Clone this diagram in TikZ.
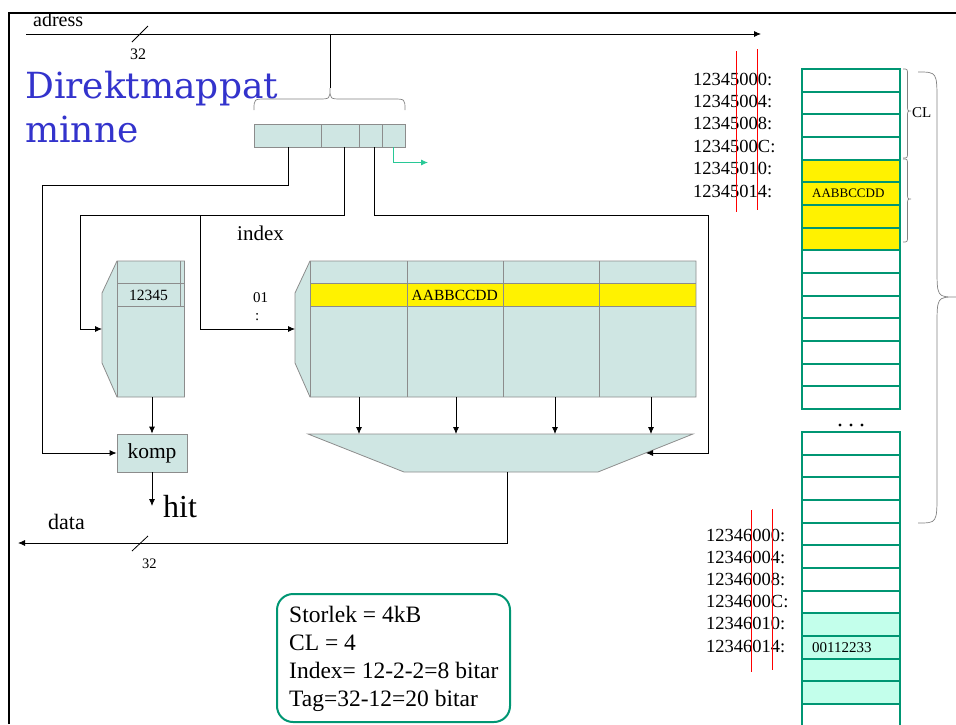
\documentclass[tikz,border=0pt]{standalone}
\usepackage{fontspec}
\setmainfont{Liberation Serif}
\newfontfamily\titlefont{DejaVu Serif}
\usetikzlibrary{arrows.meta}
\definecolor{cfill}{RGB}{207,230,227}
\definecolor{cedge}{RGB}{140,140,140}
\definecolor{mgreen}{RGB}{0,150,115}
\definecolor{mint}{RGB}{195,255,235}
\definecolor{tblue}{RGB}{51,51,204}
\definecolor{agreen}{RGB}{40,200,150}
\definecolor{bracegray}{RGB}{130,130,130}
\begin{document}
\begin{tikzpicture}[x=1pt,y=-1pt,
  arr/.style={-{Latex[length=7pt,width=6pt]}, line width=0.8pt},
  wire/.style={line width=0.8pt},
  unit/.style={fill=cfill, draw=cedge, line width=0.8pt},
  regf/.style={unit, minimum height=23pt, inner sep=0pt, outer sep=0pt, anchor=north west},
  memrow/.style={draw=mgreen, line width=2.3pt, minimum width=98pt, minimum height=22.667pt, inner sep=0pt, outer sep=0pt, anchor=north west},
  lbl/.style={inner sep=0pt},
  addr/.style={lbl, anchor=base west, font=\fontsize{18.5}{22}\selectfont},
  brc/.style={draw=bracegray, line width=0.7pt},
  redl/.style={draw=red, line width=0.8pt}
]
\useasboundingbox (0,0) rectangle (956,724);
\clip (0,0) rectangle (956,724);

% frame
\draw[line width=2pt] (9,724) -- (9,12.5) -- (956,12.5);

% title
\node[lbl, anchor=base west, text=tblue, font=\titlefont\fontsize{36}{40}\selectfont] (title1) at (25,98) {Direktmappat};
\node[lbl, anchor=base west, text=tblue, font=\titlefont\fontsize{36}{40}\selectfont] (title2) at (25,142) {minne};

% address bus
\coordinate (adrIn) at (26,34);
\coordinate (adrOut) at (761,34);
\draw[arr] (adrIn) -- (adrOut);
\draw[wire] (132,42) -- (148,26);
\node[lbl, anchor=base west, font=\fontsize{16}{18}\selectfont] (n32a) at (130,59) {32};
\node[lbl, anchor=base west, font=\fontsize{20}{24}\selectfont] (adr) at (33,26) {adress};

% register
\node[regf, minimum width=67.4pt] (r1) at (254.3,124) {};
\node[regf, minimum width=37.6pt] (r2) at (r1.north east) {};
\node[regf, minimum width=23pt] (r3) at (r2.north east) {};
\node[regf, minimum width=22.7pt] (r4) at (r3.north east) {};
\coordinate (brTip) at (330,88);
\draw[brc] (254,110) .. controls (254,99) .. (266,99) -- (318,99) .. controls (330,99) .. (brTip) .. controls (330,99) .. (342,99) -- (393,99) .. controls (405,99) .. (405,110);
\draw[wire] (330,34) -- (brTip);
\coordinate (tIdx) at (344.3,147);
\coordinate (tOff) at (374.3,147);
\coordinate (tByte) at (393.3,147);

% tag memory
\filldraw[unit] (117,261) -- (184.5,261) -- (184.5,397) -- (117,397) -- (102,363) -- (102,293) -- cycle;
\draw[cedge, line width=0.8pt] (117,261)--(117,397) (117,283)--(184.5,283) (117,306)--(184.5,306) (180.5,261)--(180.5,306);
\node[lbl, font=\fontsize{15.6}{18}\selectfont] (tagval) at (148.5,295) {12345};
\coordinate (tagIn) at (102,329);
\coordinate (tagOut) at (152,397);

% comparator
\node[unit, minimum width=70pt, minimum height=38pt, inner sep=0pt, font=\fontsize{21.5}{24}\selectfont] (komp) at (152,453) {komp};

% data cache
\fill[cfill] (310,261) -- (696,261) -- (696,397) -- (310,397) -- (295,363) -- (295,293) -- cycle;
\fill[yellow] (310,283) rectangle (696,306);
\draw[cedge, line width=0.8pt] (310,261) -- (696,261) -- (696,397) -- (310,397) -- (295,363) -- (295,293) -- cycle;
\draw[cedge, line width=0.8pt] (310,261)--(310,397) (310,283)--(696,283) (310,306)--(696,306) (407,261)--(407,397) (503,261)--(503,397) (599,261)--(599,397);
\node[lbl, anchor=west, font=\fontsize{15.5}{18}\selectfont] (cval) at (411.5,295) {AABBCCDD};
\coordinate (cacheIn) at (295,329);
\node[lbl, anchor=base west, font=\fontsize{15}{17}\selectfont] (i01) at (253,302) {01};
\node[lbl, anchor=base west, font=\fontsize{15}{17}\selectfont] (icol) at (255,320) {:};
\node[lbl, anchor=base west, font=\fontsize{21}{24}\selectfont] (idx) at (237,240) {index};

% mux
\filldraw[unit] (308,434) -- (693,434) -- (598,472) -- (404,472) -- cycle;
\coordinate (muxOut) at (507,472);
\coordinate (muxIn) at (646,453);
\foreach \x in {359,456,555,651} {
  \coordinate (co\x) at (\x,397);
  \coordinate (mi\x) at (\x,434);
  \draw[arr] (co\x) -- (mi\x);
}

% connectors
\draw[arr] (r1.south) -- (288,185) -- (42,185) -- (42,453) -- (komp.west);
\draw[arr] (tIdx) -- (344.3,215) -- (80,215) -- (80,329) -- (tagIn);
\draw[arr] (200,215) -- (200,329) -- (cacheIn);
\draw[arr] (tOff) -- (374.3,215) -- (708,215) -- (708,453) -- (muxIn);
\draw[arr, agreen] (tByte) -- (393.3,162.5) -- (428,162.5);
\draw[arr] (tagOut) -- (komp.north);
\coordinate (hitEnd) at (152,506);
\draw[arr] (komp.south) -- (hitEnd);
\node[lbl, anchor=base west, font=\fontsize{32}{36}\selectfont] (hit) at (163,517) {hit};
\coordinate (dataEnd) at (18,543);
\draw[arr] (muxOut) -- (507,543) -- (dataEnd);
\draw[wire] (132,551) -- (148,536);
\node[lbl, anchor=base west, font=\fontsize{14.5}{17}\selectfont] (n32b) at (142,568) {32};
\node[lbl, anchor=base west, font=\fontsize{22}{26}\selectfont] (data) at (48,529) {data};

% info box
\node[draw=mgreen, line width=2pt, rounded corners=16pt, anchor=north west, minimum width=233pt, minimum height=128pt, inner sep=0pt] (info) at (276,593) {};
\node[lbl, anchor=north west, align=left, font=\fontsize{23.5}{28}\selectfont] (infotext) at (289,605.5) {Storlek = 4kB\\CL = 4\\Index= 12-2-2=8 bitar\\Tag=32-12=20 bitar};

% memory
\fill[yellow] (802,159.67) rectangle (900,250.33);
\fill[mint] (802,613.33) rectangle (900,704);
\foreach \i in {0,...,14} \node[memrow] (ma\i) at (802,69+22.667*\i) {};
\foreach \i in {0,...,13} \node[memrow] (mb\i) at (802,432+22.667*\i) {};
\node[lbl, anchor=west, xshift=10pt, font=\fontsize{13}{15}\selectfont] (mval1) at (ma5.west) {AABBCCDD};
\node[lbl, anchor=west, xshift=10pt, font=\fontsize{15}{17}\selectfont] (mval2) at (mb9.west) {00112233};
\fill (840,425) circle (1.6pt) (851,425) circle (1.6pt) (862,425) circle (1.6pt);

\foreach \t [count=\k from 0] in {12345000:,12345004:,12345008:,1234500C:,12345010:,12345014:}
  \node[addr] (aa\k) at (693,85+22.4*\k) {\t};
\foreach \t [count=\k from 0] in {12346000:,12346004:,12346008:,1234600C:,12346010:,12346014:}
  \node[addr] (ab\k) at (706,541+22.2*\k) {\t};
\draw[redl] (736,51)--(736,212) (757,49)--(757,210) (751,510)--(751,672) (772,509)--(772,670);

% braces
\draw[brc] (903,69) .. controls (907.5,69) .. (907.5,75) -- (907.5,105) .. controls (907.5,111) .. (911,111) .. controls (907.5,111) .. (907.5,117) -- (907.5,152) .. controls (907.5,158) .. (903,158);
\draw[brc] (903,159) .. controls (907.5,159) .. (907.5,165) -- (907.5,193) .. controls (907.5,199) .. (911,199) .. controls (907.5,199) .. (907.5,205) -- (907.5,236) .. controls (907.5,242) .. (903,242);
\node[lbl, anchor=west, font=\fontsize{15}{18}\selectfont] (cl) at (912,113) {CL};
\draw[brc] (918,72) .. controls (937,72) .. (937,102) -- (937,267) .. controls (937,297) .. (956,297) .. controls (937,297) .. (937,327) -- (937,493) .. controls (937,523) .. (918,523);
\end{tikzpicture}
\end{document}
